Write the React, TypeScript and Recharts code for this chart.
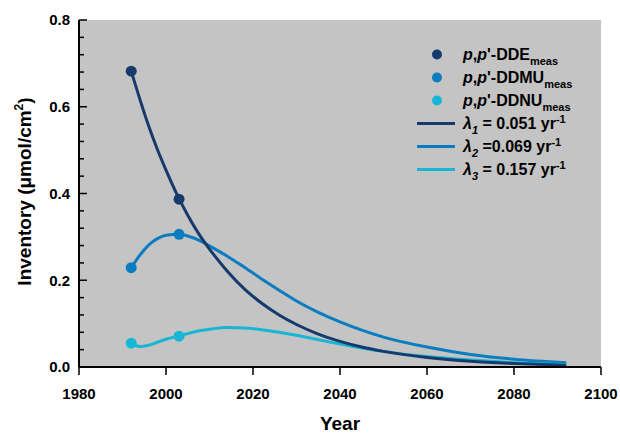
import React from 'react';
import {
  ComposedChart,
  Line,
  Scatter,
  XAxis,
  YAxis,
  ReferenceLine,
} from 'recharts';

// model curves
const years = [1992, 1994, 1996, 1998, 2000, 2003, 2005, 2008, 2010, 2014, 2018, 2022, 2026, 2030, 2035, 2040, 2045, 2050, 2060, 2070, 2080, 2092];
const ddeFit = [0.682, 0.617, 0.556, 0.502, 0.454, 0.388, 0.35, 0.3, 0.272, 0.222, 0.18, 0.147, 0.12, 0.098, 0.076, 0.059, 0.046, 0.036, 0.022, 0.013, 0.008, 0.004];
const ddmuFit = [0.229, 0.258, 0.281, 0.296, 0.304, 0.306, 0.302, 0.29, 0.279, 0.256, 0.23, 0.203, 0.177, 0.152, 0.126, 0.104, 0.085, 0.069, 0.046, 0.029, 0.018, 0.01];
const ddnuFit = [0.055, 0.047, 0.05, 0.057, 0.064, 0.072, 0.077, 0.084, 0.087, 0.091, 0.09, 0.086, 0.08, 0.073, 0.063, 0.053, 0.044, 0.036, 0.024, 0.016, 0.01, 0.006];

// measured inventories
const measYears = [1992, 2003];
const ddeMeas = [0.682, 0.387];
const ddmuMeas = [0.229, 0.306];
const ddnuMeas = [0.055, 0.071];

const xTicks = [1980, 2000, 2020, 2040, 2060, 2080, 2100];
const yTicks = [0, 0.04, 0.08, 0.12, 0.16, 0.2, 0.24, 0.28, 0.32, 0.36, 0.4, 0.44, 0.48, 0.52, 0.56, 0.6, 0.64, 0.68, 0.72, 0.76, 0.8];

const C1 = '#163a6c';
const C2 = '#0b7cc0';
const C3 = '#17b6d5';
const BG = '#c4c4c4';
const FONT = '"Liberation Sans", Arial, sans-serif';

const W = 620;
const H = 436;
const M = { top: 20, right: 19, bottom: 0, left: 0 };
const Y_W = 79;
const X_H = 69;
const AXIS_X = M.left + Y_W;
const X_MIN = 1980;
const X_MAX = 2100;
const PX_PER_YEAR = (W - AXIS_X - M.right) / (X_MAX - X_MIN);

const fitData = years.map((year, i) => ({ year, dde: ddeFit[i], ddmu: ddmuFit[i], ddnu: ddnuFit[i] }));
const toPts = (vals: number[]) => measYears.map((year, i) => ({ year, v: vals[i] }));
const isMajor = (v: number) => Math.abs(v / 0.2 - Math.round(v / 0.2)) < 1e-6;

const dot = (color: string) => (p: any) => <circle cx={p.cx} cy={p.cy} r={5.5} fill={color} />;

function YTick(props: any) {
  const { y, payload } = props;
  const v = payload.value;
  if (!isMajor(v)) return <g />;
  return (
    <text x={AXIS_X - 9} y={y} dy="0.36em" textAnchor="end" fontFamily={FONT} fontWeight="bold" fontSize={15} fill="#000">
      {v.toFixed(1)}
    </text>
  );
}

const legendRows = [
  { kind: 'dot', color: C1, label: <><i>p</i>,<i>p</i>'-DDE<sub>meas</sub></> },
  { kind: 'dot', color: C2, label: <><i>p</i>,<i>p</i>'-DDMU<sub>meas</sub></> },
  { kind: 'dot', color: C3, label: <><i>p</i>,<i>p</i>'-DDNU<sub>meas</sub></> },
  { kind: 'line', color: C1, label: <><i>λ<sub>1</sub></i> = 0.051 yr<sup>-1</sup></> },
  { kind: 'line', color: C2, label: <><i>λ<sub>2</sub></i> =0.069 yr<sup>-1</sup></> },
  { kind: 'line', color: C3, label: <><i>λ<sub>3</sub></i> = 0.157 yr<sup>-1</sup></> },
];

function LegendBox() {
  return (
    <div className="lg" style={{ position: 'absolute', left: 410, top: 43, fontFamily: FONT, fontWeight: 'bold', fontSize: 16, color: '#000' }}>
      {legendRows.map((r, i) => (
        <div key={i} style={{ display: 'flex', alignItems: 'center', height: 23 }}>
          <svg width={53} height={23} style={{ flex: 'none' }}>
            {r.kind === 'dot'
              ? <circle cx={27} cy={11.5} r={5} fill={r.color} />
              : <line x1={7} x2={45} y1={11.5} y2={11.5} stroke={r.color} strokeWidth={3} />}
          </svg>
          <span style={{ whiteSpace: 'nowrap', lineHeight: '23px' }}>{r.label}</span>
        </div>
      ))}
    </div>
  );
}

export default function App() {
  return (
    <div style={{ position: 'absolute', left: 0, top: 0, width: W, height: H, background: '#fff' }}>
      <style>{`.lg sub{font-size:11px;vertical-align:-5px;line-height:0}.lg sup{font-size:11px;vertical-align:6px;line-height:0}`}</style>
      {/* plot background */}
      <div style={{ position: 'absolute', left: AXIS_X, top: M.top, width: W - AXIS_X - M.right, height: H - M.top - X_H, background: BG }} />
      <div style={{ position: 'absolute', left: 0, top: 0 }}>
        <ComposedChart width={W} height={H} data={fitData} margin={M}>
          <XAxis
            dataKey="year"
            type="number"
            domain={[X_MIN, X_MAX]}
            ticks={xTicks}
            height={X_H}
            tickSize={8}
            tickMargin={13}
            axisLine={{ stroke: '#000', strokeWidth: 2 }}
            tickLine={{ stroke: '#000', strokeWidth: 1.5 }}
            tick={{ fill: '#000', fontFamily: FONT, fontWeight: 'bold', fontSize: 15 }}
            label={{
              content: (p: any) => (
                <text x={p.viewBox.x + p.viewBox.width / 2} y={p.viewBox.y + 63} textAnchor="middle"
                  fontFamily={FONT} fontWeight="bold" fontSize={19} fill="#000">Year</text>
              ),
            }}
          />
          <YAxis
            type="number"
            domain={[0, 0.8]}
            ticks={yTicks}
            width={Y_W}
            interval={0}
            tickSize={0}
            tickMargin={9}
            tickLine={false}
            axisLine={{ stroke: '#000', strokeWidth: 2 }}
            tick={<YTick />}
            label={{
              content: (p: any) => {
                const cx = 31;
                const cy = p.viewBox.y + p.viewBox.height / 2 - 2;
                return (
                  <text x={cx} y={cy} transform={`rotate(-90, ${cx}, ${cy})`} textAnchor="middle"
                    fontFamily={FONT} fontWeight="bold" fontSize={19} fill="#000">
                    Inventory (μmol/cm<tspan fontSize={12} dy={-8}>2</tspan><tspan dy={8}>)</tspan>
                  </text>
                );
              },
            }}
          />
          <Line dataKey="ddmu" type="monotone" stroke={C2} strokeWidth={3} dot={false} isAnimationActive={false} />
          <Line dataKey="ddnu" type="monotone" stroke={C3} strokeWidth={3} dot={false} isAnimationActive={false} />
          <Line dataKey="dde" type="monotone" stroke={C1} strokeWidth={3} dot={false} isAnimationActive={false} />
          <Scatter data={toPts(ddeMeas)} dataKey="v" shape={dot(C1)} isAnimationActive={false} />
          <Scatter data={toPts(ddmuMeas)} dataKey="v" shape={dot(C2)} isAnimationActive={false} />
          <Scatter data={toPts(ddnuMeas)} dataKey="v" shape={dot(C3)} isAnimationActive={false} />
          {/* inward y tick marks */}
          {yTicks.map(v => (
            <ReferenceLine
              key={v}
              segment={[{ x: X_MIN, y: v }, { x: X_MIN + (isMajor(v) ? 8 : 5) / PX_PER_YEAR, y: v }]}
              stroke="#000"
              strokeWidth={1.5}
              ifOverflow="visible"
            />
          ))}
        </ComposedChart>
      </div>
      <LegendBox />
    </div>
  );
}
